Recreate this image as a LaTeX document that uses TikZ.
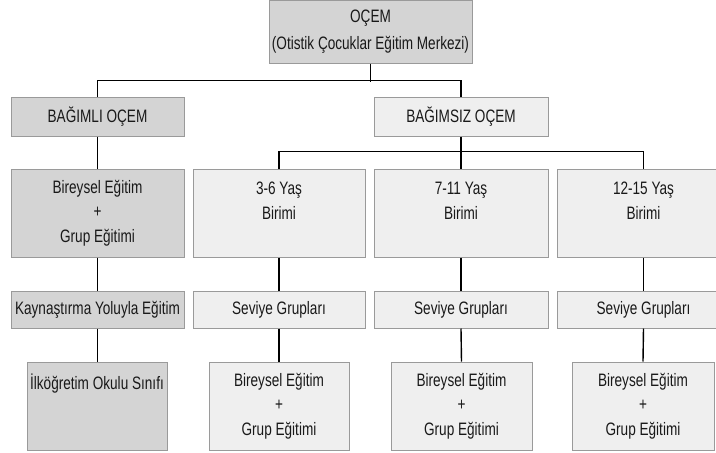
\documentclass[tikz,border=0pt]{standalone}
\usepackage{fontspec}
\setmainfont{Liberation Sans}[FakeStretch=0.755]
\definecolor{boxdark}{HTML}{D4D4D4}
\definecolor{boxlight}{HTML}{EFEFEF}
\definecolor{boxline}{HTML}{9A9A9A}
\begin{document}
\begin{tikzpicture}[x=1pt,y=1pt,
  box/.style={draw=boxline, line width=1pt, inner sep=0pt, align=center,
    font=\fontsize{18}{24.5}\selectfont, text=black!90},
  darkbox/.style={box, fill=boxdark},
  lightbox/.style={box, fill=boxlight},
  conn/.style={draw=black, line width=1.4pt}]
\useasboundingbox (0,0) rectangle (716,-453);
\clip (0,0) rectangle (716,-453);
\fill[white] (0,0) rectangle (716,-453);
% top
\node[darkbox, minimum width=203pt, minimum height=63pt] (ocem) at (370.5,-31.5) {OÇEM\\[2pt](Otistik Çocuklar Eğitim Merkezi)};
% level 2
\node[darkbox, minimum width=173pt, minimum height=39pt] (bagimli) at (97.5,-116.5) {BAĞIMLI OÇEM};
\node[lightbox, minimum width=174pt, minimum height=39pt] (bagimsiz) at (461,-116.5) {BAĞIMSIZ OÇEM};
% level 3
\node[darkbox, minimum width=173pt, minimum height=88pt] (bireysel) at (97.5,-213) {Bireysel Eğitim\\+\\Grup Eğitimi};
\node[lightbox, minimum width=172pt, minimum height=88pt] (u1) at (279,-213) {3-6 Yaş\\Birimi\\~};
\node[lightbox, minimum width=174pt, minimum height=88pt] (u2) at (461,-213) {7-11 Yaş\\Birimi\\~};
\node[lightbox, minimum width=173pt, minimum height=88pt] (u3) at (643.5,-213) {12-15 Yaş\\Birimi\\~};
% level 4
\node[darkbox, minimum width=173pt, minimum height=37pt] (kay) at (97.5,-309.5) {Kaynaştırma Yoluyla Eğitim};
\node[lightbox, minimum width=172pt, minimum height=37pt] (s1) at (279,-309.5) {Seviye Grupları};
\node[lightbox, minimum width=174pt, minimum height=37pt] (s2) at (461,-309.5) {Seviye Grupları};
\node[lightbox, minimum width=173pt, minimum height=37pt] (s3) at (643.5,-309.5) {Seviye Grupları};
% level 5
\node[darkbox, minimum width=140pt, minimum height=88pt] (ilk) at (97,-406) {İlköğretim Okulu Sınıfı\\~\\~};
\node[lightbox, minimum width=140pt, minimum height=88pt] (b1) at (279,-406) {Bireysel Eğitim\\+\\Grup Eğitimi};
\node[lightbox, minimum width=141pt, minimum height=88pt] (b2) at (461.5,-406) {Bireysel Eğitim\\+\\Grup Eğitimi};
\node[lightbox, minimum width=142pt, minimum height=88pt] (b3) at (643,-406) {Bireysel Eğitim\\+\\Grup Eğitimi};
% connectors
\draw[conn] (ocem.south) -- ++(0,-18);
\draw[conn] (bagimli.north) -- ++(0,16) -| (bagimsiz.north);
\draw[conn] (bagimli.south) -- (bireysel.north);
\draw[conn] (bireysel.south) -- (kay.north);
\draw[conn] (kay.south) -- (kay.south |- ilk.north);
\draw[conn] (bagimsiz.south) -- (u2.north);
\draw[conn] (u1.north) -- ++(0,17) -| (u3.north);
\draw[conn] (u1.south) -- (s1.north);
\draw[conn] (u2.south) -- (s2.north);
\draw[conn] (u3.south) -- (s3.north);
\draw[conn] (s1.south) -- (b1.north);
\draw[conn] (s2.south) -- (b2.north);
\draw[conn] (s3.south) -- (b3.north);
\end{tikzpicture}
\end{document}
